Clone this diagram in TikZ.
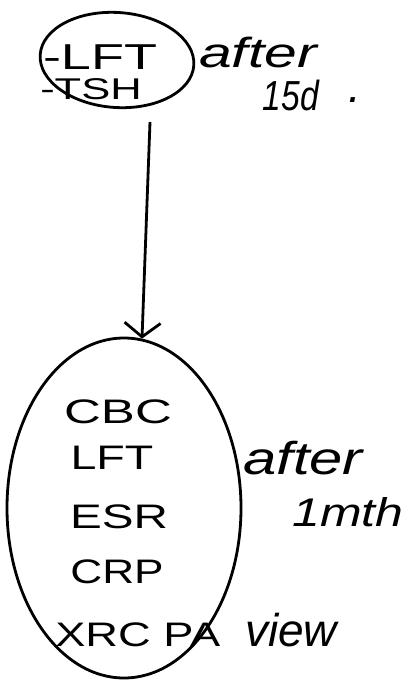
\documentclass[tikz,border=0pt]{standalone}
\usepackage{fontspec}
\setmainfont{Liberation Sans}
\usetikzlibrary{arrows.meta,shapes.geometric,calc}
\tikzset{
  ink/.style={line width=2.8pt, black},
  bubble/.style={ink, draw, ellipse, inner sep=0pt},
  caps/.style={font=\fontsize{34}{36}\selectfont, inner sep=0pt},
  note/.style={font=\itshape\fontsize{46}{48}\selectfont, inner sep=0pt}
}
\begin{document}
\begin{tikzpicture}[x=1pt,y=-1pt]
\useasboundingbox[fill=white] (0,0) rectangle (409,686);
% top bubble
\node[bubble, minimum width=154pt, minimum height=95pt, rotate=-4] (top) at (117,60) {};
\node[caps, font=\fontsize{36}{38}\selectfont, xscale=1.5] (t1) at (100,57) {-LFT};
\node[caps, font=\fontsize{30}{32}\selectfont, xscale=1.45] (t2) at (91,89) {-TSH};
\node[note, font=\itshape\fontsize{42}{44}\selectfont, xscale=1.4] (n1) at (258,52) {after};
\node[note, font=\itshape\fontsize{42}{44}\selectfont, xscale=0.8] (n2) at (291,95) {15d};
\node[note] (n3) at (355,100) {.};
% bottom bubble
\node[bubble, minimum width=234pt, minimum height=340pt] (bot) at (124,508) {};
\node[caps, xscale=1.5] (b1) at (118,412) {CBC};
\node[caps, xscale=1.37] (b2) at (112,458) {LFT};
\node[caps, xscale=1.4] (b3) at (119,517) {ESR};
\node[caps, xscale=1.3] (b4) at (117,572) {CRP};
\node[caps, xscale=1.33, anchor=west] (b5) at (55,635) {XRC PA};
\node[note, anchor=west] (b6) at (245,630) {view};
\node[note, xscale=1.3] (m1) at (303,458) {after};
\node[note, font=\itshape\fontsize{40}{42}\selectfont, xscale=1.25] (m2) at (348,512) {1mth};
% connector
\draw[ink, -{Straight Barb[length=14pt,width=36pt]}] (150,122) -- ($(bot.north)+(18,2)$);
\end{tikzpicture}
\end{document}
